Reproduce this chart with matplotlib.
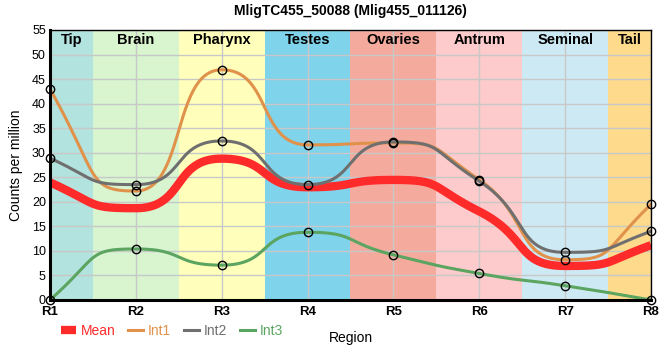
import numpy as np
import matplotlib
matplotlib.use("Agg")
import matplotlib.pyplot as plt
from matplotlib.lines import Line2D

plt.rcParams["font.family"] = ["Liberation Sans", "DejaVu Sans"]

# data
regions = ["R1", "R2", "R3", "R4", "R5", "R6", "R7", "R8"]
int1 = [43.0, 22.2, 46.9, 31.6, 32.0, 24.5, 8.2, 19.5]
int2 = [28.9, 23.5, 32.4, 23.5, 32.2, 24.2, 9.7, 14.0]
int3 = [0.0, 10.4, 7.1, 13.8, 9.2, 5.4, 2.9, 0.0]
mean = [(a + b + c) / 3 for a, b, c in zip(int1, int2, int3)]

tissues = ["Tip", "Brain", "Pharynx", "Testes", "Ovaries", "Antrum", "Seminal", "Tail"]
tissue_spans = [(0, 0.5), (0.5, 1.5), (1.5, 2.5), (2.5, 3.5), (3.5, 4.5), (4.5, 5.5), (5.5, 6.5), (6.5, 7)]
tissue_colors = ["#b3e3de", "#d8f5d0", "#ffffbb", "#7fd3ea", "#f4ab9d", "#fdcbcb", "#cdeaf4", "#fdda8c"]

c_mean = "#ff2a2a"
c_int1 = "#e0914a"
c_int2 = "#6f6f6f"
c_int3 = "#5ba560"


def smooth_curve(y, k=0.58, n=50):
    # monotone slopes, bezier handles a bit longer than usual (flatter near points)
    y = np.asarray(y, dtype=float)
    x = np.arange(len(y), dtype=float)
    s = np.diff(y)
    m = np.zeros(len(y))
    for i in range(1, len(y) - 1):
        p = (s[i - 1] + s[i]) / 2
        m[i] = (np.sign(s[i - 1]) + np.sign(s[i])) * min(abs(s[i - 1]), abs(s[i]), 0.5 * abs(p))
    m[0] = (3 * s[0] - m[1]) / 2
    m[-1] = (3 * s[-1] - m[-2]) / 2
    t = np.linspace(0, 1, n)[:, None]
    xs, ys = [], []
    for i in range(len(y) - 1):
        p0 = np.array([x[i], y[i]])
        p1 = np.array([x[i] + k, y[i] + k * m[i]])
        p2 = np.array([x[i + 1] - k, y[i + 1] - k * m[i + 1]])
        p3 = np.array([x[i + 1], y[i + 1]])
        b = (1 - t)**3 * p0 + 3 * (1 - t)**2 * t * p1 + 3 * (1 - t) * t**2 * p2 + t**3 * p3
        xs.append(b[:, 0])
        ys.append(b[:, 1])
    return np.concatenate(xs), np.concatenate(ys)


fig = plt.figure(figsize=(6.6, 3.6), dpi=100)
ax = fig.add_axes([50 / 660, 60 / 360, 601 / 660, 270 / 360])

for name, (a, b), col in zip(tissues, tissue_spans, tissue_colors):
    ax.axvspan(a, b, color=col, zorder=0, lw=0)
    ax.text((a + b) / 2, 54.3, name, ha="center", va="top", fontsize=10.5, fontweight="bold", zorder=5)

ax.set_xlim(0, 7)
ax.set_ylim(0, 55)
ax.set_yticks(range(0, 56, 5))
ax.set_xticks(range(8))
ax.set_xticklabels(regions, fontweight="bold", fontsize=9.5)
ax.tick_params(axis="y", labelsize=9, length=0, pad=3)
ax.tick_params(axis="x", length=0, pad=4)
ax.grid(True, color="#c8c8c8", lw=1, zorder=1)
ax.set_axisbelow(False)

xm, ym = smooth_curve(mean)
ax.plot(xm, ym, color=c_mean, lw=6, solid_capstyle="butt", zorder=3)
for ser, col in [(int1, c_int1), (int2, c_int2), (int3, c_int3)]:
    xs, ys = smooth_curve(ser)
    ax.plot(xs, ys, color=col, lw=2.2, zorder=4)
    ax.plot(range(8), ser, ls="none", marker="o", ms=6, mfc="none", mec="black", mew=1, zorder=6, clip_on=False)

for side in ["left", "bottom"]:
    ax.spines[side].set_linewidth(2.2)
for side in ["top", "right"]:
    ax.spines[side].set_linewidth(1)
for sp in ax.spines.values():
    sp.set_zorder(7)

ax.set_ylabel("Counts per million", fontsize=10, labelpad=6)
ax.set_xlabel("Region", fontsize=10)
ax.xaxis.set_label_coords((351 - 50) / 601, -31 / 270)

ax.set_title("MligTC455_50088 (Mlig455_011126)", fontsize=10, fontweight="bold", pad=11)

handles = [
    Line2D([], [], color=c_mean, lw=6, solid_capstyle="butt"),
    Line2D([], [], color=c_int1, lw=2.2),
    Line2D([], [], color=c_int2, lw=2.2),
    Line2D([], [], color=c_int3, lw=2.2),
]
fig.legend(handles, ["Mean", "Int1", "Int2", "Int3"], loc="center left",
           bbox_to_anchor=(48 / 660, 1 - 331 / 360), ncol=4, frameon=False,
           fontsize=10, handlelength=1.1, handletextpad=0.35, columnspacing=0.9,
           labelcolor="linecolor")

fig.savefig("out.png", dpi=100)
